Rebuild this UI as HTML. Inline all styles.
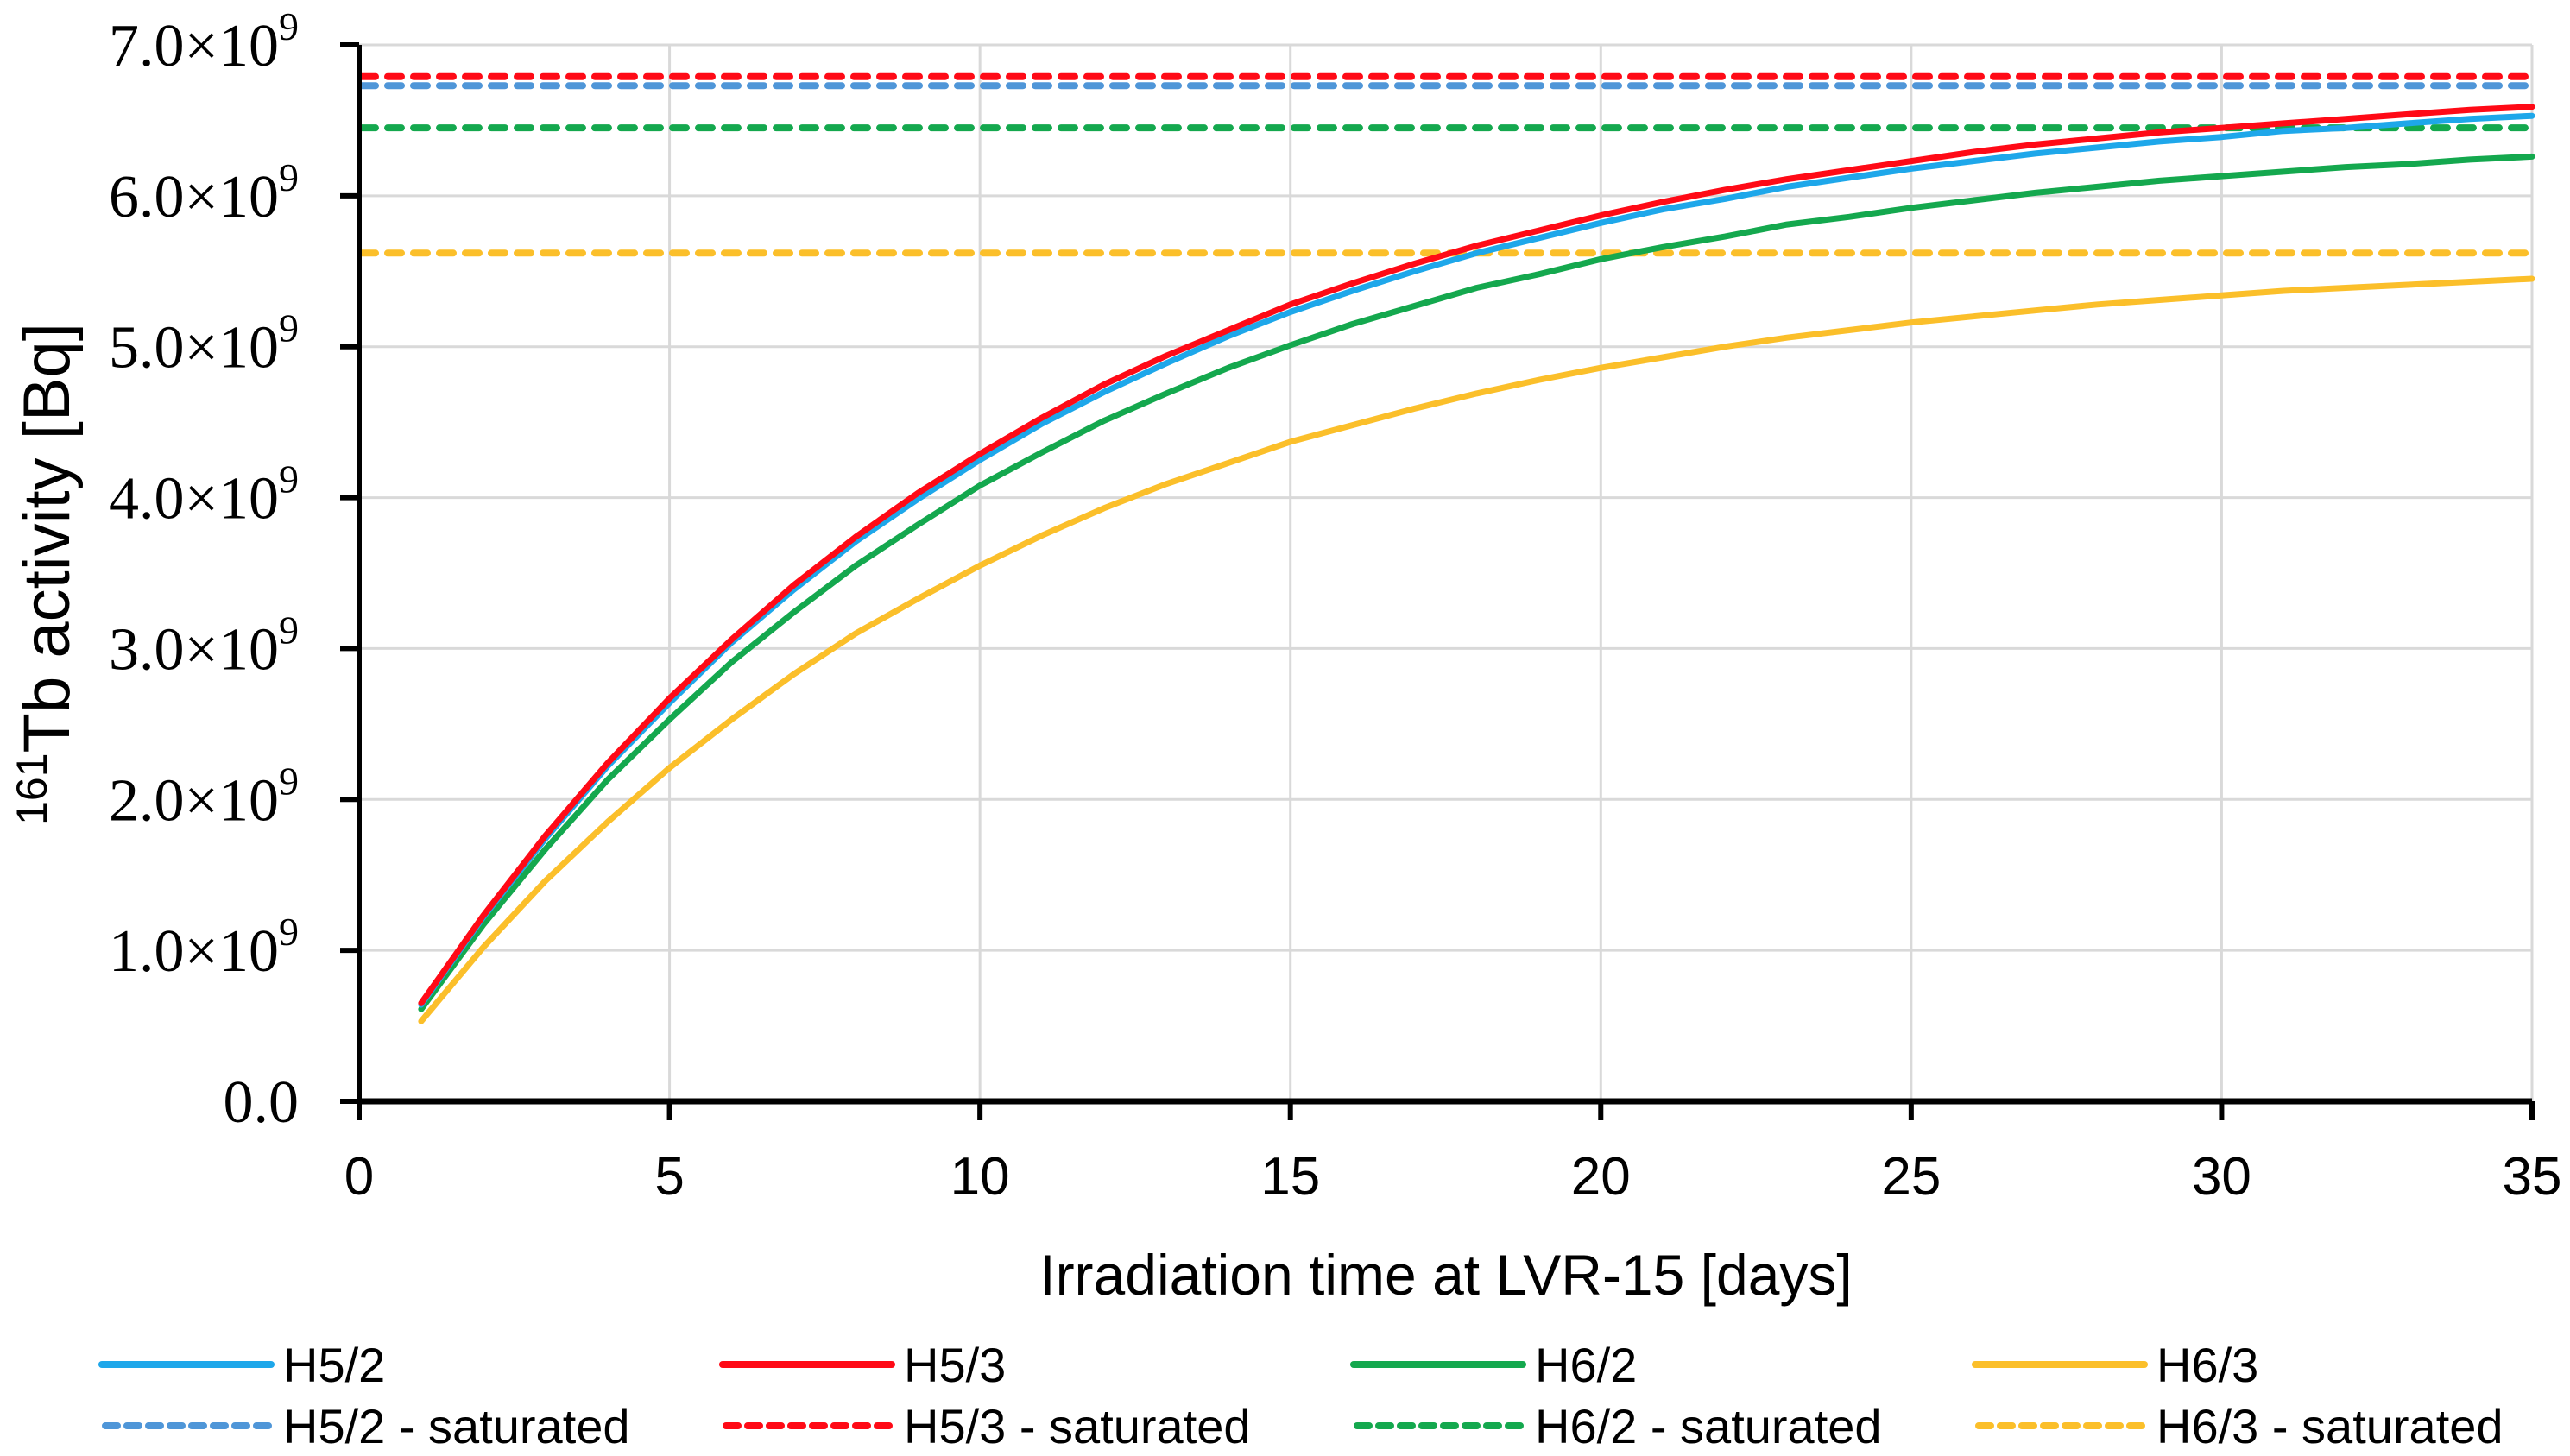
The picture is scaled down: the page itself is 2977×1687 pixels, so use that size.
<!DOCTYPE html>
<html><head><meta charset="utf-8"><style>
html,body{margin:0;padding:0;background:#fff;}
svg{display:block;}
</style></head><body>
<svg id="chart" width="2977" height="1687" viewBox="0 0 2977 1687" xmlns="http://www.w3.org/2000/svg">
<g id="grid"></g>
<g id="series"></g>
<g id="axes"></g>
<text x="80" y="665" transform="rotate(-90 80 665)" text-anchor="middle" font-family="Liberation Sans, sans-serif" font-size="76"><tspan font-size="50" dy="-26">161</tspan><tspan dy="26">Tb activity [Bq]</tspan></text>
<text x="1675" y="1500" text-anchor="middle" font-family="Liberation Sans, sans-serif" font-size="66">Irradiation time at LVR-15 [days]</text>
<g id="legend"></g>
</svg>
<script>
const days = [1,2,3,4,5,6,7,8,9,10,11,12,13,14,15,16,17,18,19,20,21,22,23,24,25,26,27,28,29,30,31,32,33,34,35];
const h52 = [0.64,1.22,1.74,2.22,2.64,3.04,3.39,3.71,3.99,4.25,4.49,4.70,4.89,5.07,5.23,5.37,5.50,5.62,5.72,5.82,5.91,5.98,6.06,6.12,6.18,6.23,6.28,6.32,6.36,6.39,6.43,6.45,6.48,6.51,6.53];
const h53 = [0.65,1.23,1.76,2.24,2.67,3.06,3.42,3.74,4.03,4.29,4.53,4.75,4.94,5.11,5.28,5.42,5.55,5.67,5.77,5.87,5.96,6.04,6.11,6.17,6.23,6.29,6.34,6.38,6.42,6.45,6.48,6.51,6.54,6.57,6.59];
const h62 = [0.61,1.17,1.67,2.13,2.53,2.91,3.24,3.55,3.82,4.08,4.30,4.51,4.69,4.86,5.01,5.15,5.27,5.39,5.48,5.58,5.66,5.73,5.81,5.86,5.92,5.97,6.02,6.06,6.10,6.13,6.16,6.19,6.21,6.24,6.26];
const h63 = [0.53,1.02,1.46,1.85,2.21,2.53,2.83,3.10,3.33,3.55,3.75,3.93,4.09,4.23,4.37,4.48,4.59,4.69,4.78,4.86,4.93,5.00,5.06,5.11,5.16,5.20,5.24,5.28,5.31,5.34,5.37,5.39,5.41,5.43,5.45];
const saturated = [6.73,6.79,6.45,5.62];
const seriesNames = ["H5/2","H5/3","H6/2","H6/3"];
const xTicks = [0,5,10,15,20,25,30,35];
const yTicks = [0,1,2,3,4,5,6,7];
const yTickLabels = ["0.0","1.0","2.0","3.0","4.0","5.0","6.0","7.0"];

const NS="http://www.w3.org/2000/svg";
const L=416,R=2933,T=52,B=1276;
function xs(v){return L+(v-0)/(35-0)*(R-L);}
function ys(v){return B-(v-0)/(7-0)*(B-T);}
function mk(tag,attrs,parent){const e=document.createElementNS(NS,tag);for(const k in attrs)e.setAttribute(k,attrs[k]);parent.appendChild(e);return e;}
const grid=document.getElementById('grid'),axes=document.getElementById('axes'),ser=document.getElementById('series'),leg=document.getElementById('legend');

yTicks.forEach((t,i)=>{
  if(t>0){const g=mk('line',{x1:L,x2:R,y1:ys(t),y2:ys(t),stroke:'#d9d9d9','stroke-width':3},grid);
  
  }
  const tk=mk('line',{x1:L-22,x2:L,y1:ys(t),y2:ys(t),stroke:'#000','stroke-width':6},axes);
  
  
  const tx=mk('text',{x:L-70,y:ys(t)+24,'text-anchor':'end','font-family':'Liberation Serif, serif','font-size':70},axes);
  
  
  if(t===0){tx.textContent=yTickLabels[i];}
  else{tx.textContent=yTickLabels[i]+'\u00d710';const s=mk('tspan',{'font-size':46,dy:-30},tx);s.textContent='9';}
});
xTicks.forEach(t=>{
  if(t>0){const g=mk('line',{x1:xs(t),x2:xs(t),y1:T,y2:B,stroke:'#d9d9d9','stroke-width':3},grid);
  
  }
  const tk=mk('line',{x1:xs(t),x2:xs(t),y1:B,y2:B+22,stroke:'#000','stroke-width':6},axes);
  
  
  const tx=mk('text',{x:xs(t),y:B+108,'text-anchor':'middle','font-family':'Liberation Sans, sans-serif','font-size':62},axes);
  
  
  tx.textContent=String(t);
});
const ya=mk('line',{x1:L,x2:L,y1:T,y2:B+2,stroke:'#000','stroke-width':6},axes);


const xa=mk('line',{x1:L-3,x2:R,y1:B,y2:B,stroke:'#000','stroke-width':7},axes);



const solidColors=['#1ea7ea','#ff0a16','#14a84e','#fbbf2a'];
const dashColors=['#4f96d8','#ff0a16','#14a84e','#fbbf2a'];
const allSeries=[h52,h53,h62,h63];
saturated.forEach((v,i)=>{
  const l=mk('line',{x1:L+3,x2:R,y1:ys(v),y2:ys(v),stroke:dashColors[i],'stroke-width':8,'stroke-dasharray':'16 14','stroke-linecap':'round'},ser);
  
  
});
[3,2,0,1].forEach(i=>{
  const d=allSeries[i].map((v,k)=>(k?'L':'M')+xs(days[k]).toFixed(1)+' '+ys(v).toFixed(1)).join(' ');
  const p=mk('path',{d:d,fill:'none',stroke:solidColors[i],'stroke-width':7,'stroke-linejoin':'round','stroke-linecap':'round'},ser);
  
  
});
const colX=[118,837,1568,2288];
seriesNames.forEach((n,i)=>{
  const x0=colX[i];
  const a=mk('line',{x1:x0,x2:x0+196,y1:1581,y2:1581,stroke:solidColors[i],'stroke-width':8,'stroke-linecap':'round'},leg);
  
  
  const t1=mk('text',{x:x0+210,y:1601,'font-family':'Liberation Sans, sans-serif','font-size':56},leg);
  
  
  t1.textContent=n;
  const b=mk('line',{x1:x0+4,x2:x0+196,y1:1652,y2:1652,stroke:dashColors[i],'stroke-width':8,'stroke-dasharray':'14 11','stroke-linecap':'round'},leg);
  
  
  const t2=mk('text',{x:x0+210,y:1672,'font-family':'Liberation Sans, sans-serif','font-size':56},leg);
  
  
  t2.textContent=n+' - saturated';
});
</script>
</body></html>
